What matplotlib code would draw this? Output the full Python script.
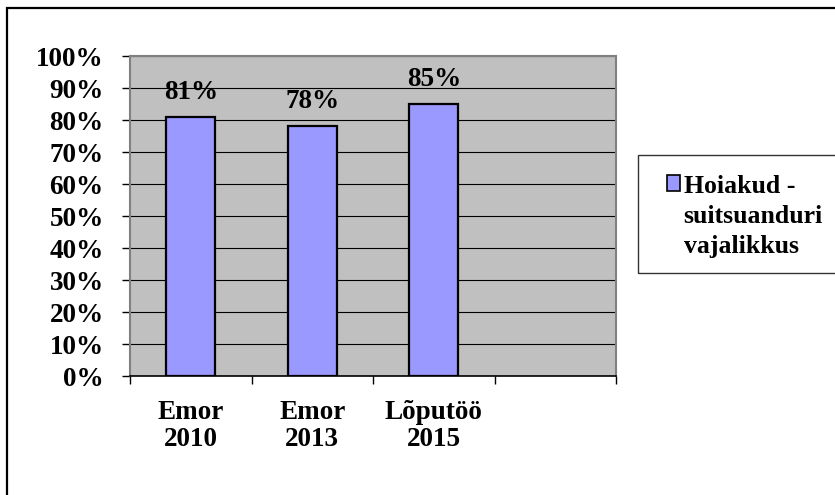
import matplotlib
matplotlib.use("Agg")
import matplotlib.pyplot as plt
import matplotlib.patches as mpatches
from matplotlib.legend_handler import HandlerPatch
from matplotlib.ticker import PercentFormatter
import numpy as np

categories = ["Emor\n2010", "Emor\n2013", "Lõputöö\n2015"]
values = [0.81, 0.78, 0.85]
series_name = "Hoiakud -\nsuitsuanduri\nvajalikkus"

plt.rcParams["font.family"] = ["Liberation Serif", "DejaVu Serif"]
plt.rcParams["font.weight"] = "bold"

W, H = 835, 495
fig = plt.figure(figsize=(W / 100, H / 100), dpi=100)

# plot area in pixel coords of the reference
ax = fig.add_axes([130 / W, 1 - 376 / H, (616 - 130) / W, (376 - 56) / H])
ax.set_facecolor("#C0C0C0")

x = np.arange(len(categories))
ax.bar(x, values, width=0.4, color="#9999FF", edgecolor="black", linewidth=1.6, zorder=3)

for xi, v in zip(x, values):
    ax.annotate(f"{v:.0%}", (xi, v), xytext=(0, 13), textcoords="offset points",
                ha="center", va="baseline", fontsize=19.5, fontweight="bold")

ax.set_xlim(-0.5, 3.5)
ax.set_ylim(0, 1)
ax.set_yticks(np.arange(0, 1.01, 0.1))
ax.yaxis.set_major_formatter(PercentFormatter(1.0, decimals=0))
ax.grid(axis="y", color="black", linewidth=0.8)
ax.set_axisbelow(True)

ax.set_xticks(np.arange(-0.5, 3.6, 1))
ax.set_xticklabels([])
ax.set_xticks(x, minor=True)
ax.set_xticklabels(categories, minor=True, fontsize=19.5, fontweight="bold", linespacing=1.12)
ax.tick_params(axis="x", which="major", length=6, width=1, direction="out")
ax.tick_params(axis="x", which="minor", length=0, pad=17)
ax.tick_params(axis="y", length=6, width=1, direction="out", pad=13, labelsize=19.5)

for s in ["top", "right", "left"]:
    ax.spines[s].set_color("#808080")
    ax.spines[s].set_linewidth(1.5)
ax.spines["bottom"].set_color("black")
ax.spines["bottom"].set_linewidth(1.2)

# outer chart frame (runs off right/bottom edge like the reference)
fig.patches.append(mpatches.Rectangle((7 / W, -0.1), 1.1, 1.1 - 8 / H, transform=fig.transFigure,
                                      fill=False, edgecolor="black", linewidth=1.6))

# legend box
fig.patches.append(mpatches.Rectangle((638 / W, 1 - 273 / H), 0.3, 118 / H, transform=fig.transFigure,
                                      fill=False, edgecolor="#333333", linewidth=1.0))


def top_patch(legend, orig_handle, xdescent, ydescent, width, height, fontsize):
    shift = 1.3 * fontsize
    return mpatches.Rectangle((-xdescent, -ydescent + shift), width, height)


handle = mpatches.Patch(facecolor="#9999FF", edgecolor="black", linewidth=1.2)
leg = fig.legend([handle], [series_name], loc="upper left", bbox_to_anchor=(667 / W, 1 - 175 / H),
                 frameon=False, borderpad=0, borderaxespad=0,
                 prop={"size": 18.5, "weight": "bold"},
                 handlelength=0.5, handleheight=0.55, handletextpad=0.15,
                 handler_map={mpatches.Patch: HandlerPatch(patch_func=top_patch)})
leg.get_texts()[0].set_linespacing(1.4)

fig.savefig("out.png", dpi=100)
